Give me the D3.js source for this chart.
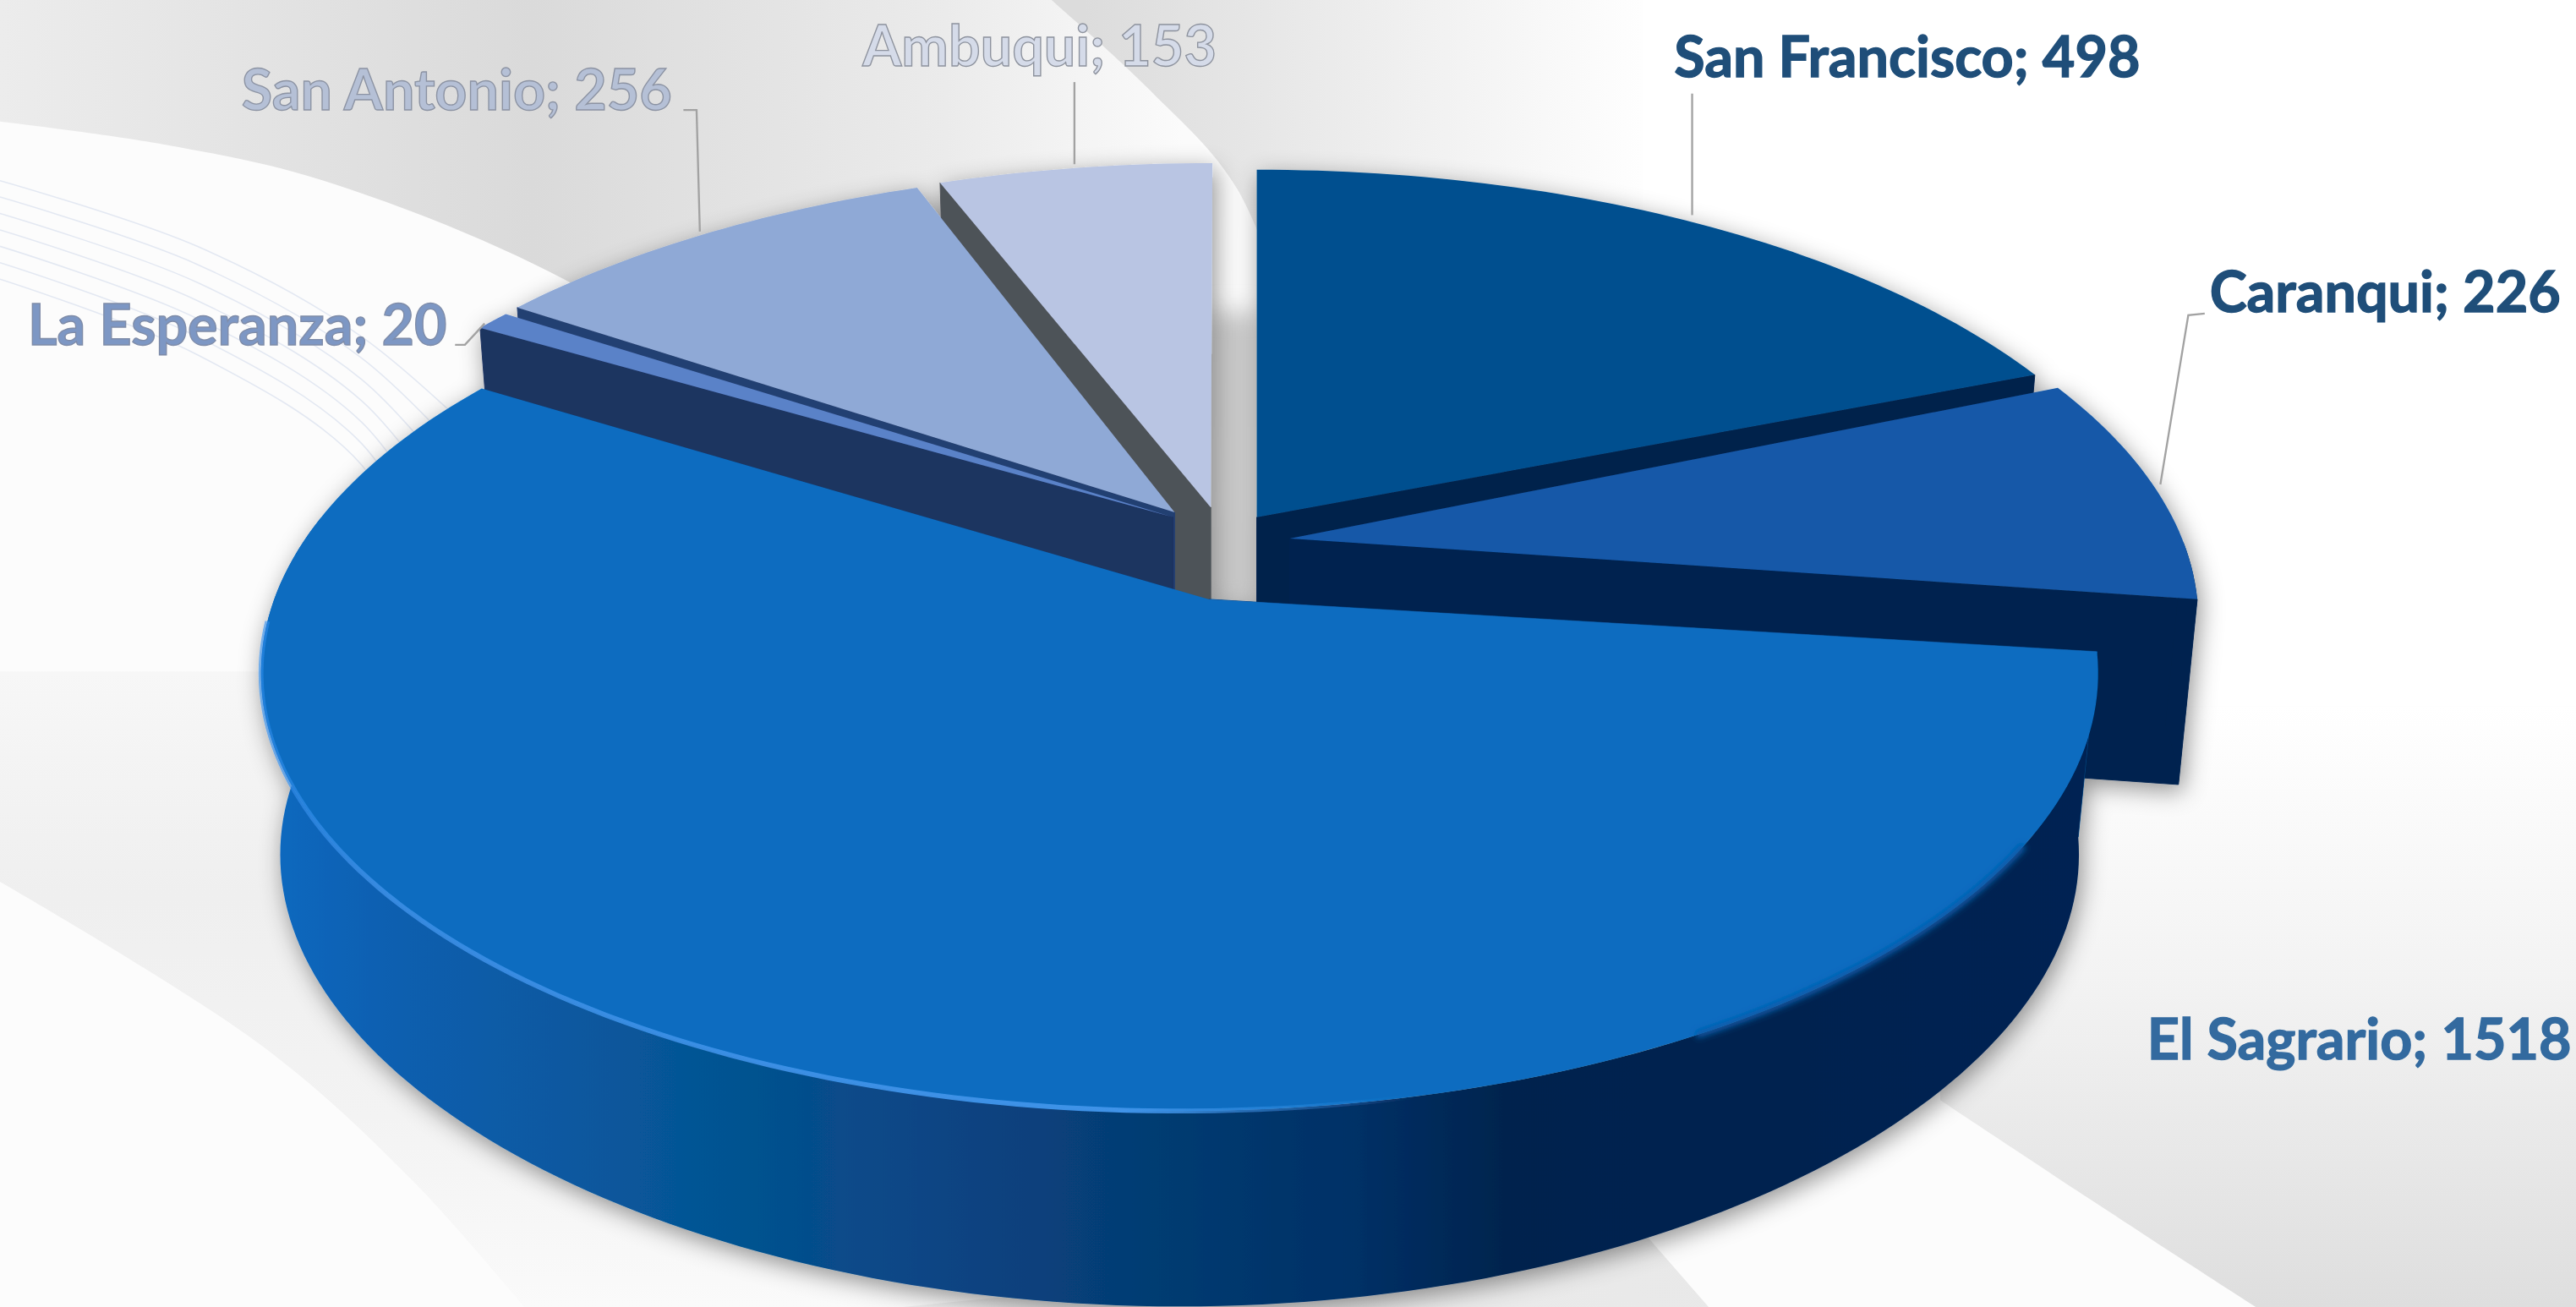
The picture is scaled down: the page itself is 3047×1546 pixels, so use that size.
<!DOCTYPE html>
<html>
<head>
  <meta charset="utf-8">
  <script src="https://d3js.org/d3.v7.min.js"></script>
  <style>
    html, body { margin: 0; padding: 0; background: #fff; overflow: hidden; }
    svg { display: block; }
    text.label { font-family: Lato, sans-serif; font-weight: 700; font-size: 34.2px; }
  </style>
</head>
<body>
  <script>
    // data, clockwise from 12 o'clock
    const categories = ['San Francisco', 'Caranqui', 'El Sagrario', 'La Esperanza', 'San Antonio', 'Ambuqui'];
    const values = [498, 226, 1518, 20, 256, 153];

    const topColors = ['#04508f', '#1459a8', '#086cc0', '#5a82c8', '#8fa9d6', '#b9c5e3'];
    const sideColors = ['#03214c', '#00234f', '#0a4a8c', '#1c3461', '#233f72', '#4d5258'];
    const labelColors = ['#1f4e79', '#1f4e79', '#336a9f', '#7d97c4', '#b5c0d6', '#d5dbe9'];
    const labelStrokes = ['#1f4e79', '#1f4e79', '#336a9f', '#7f8ca8', '#8c93a3', '#8e939e'];

    // exploded slices: rim centre and tip of each wedge
    const rimCentres = [[765, 322], [779, 330], [718, 362], [717, 325], [724, 321], [738, 318]];
    const apexes = [[765, 315], [785, 328], [736, 365], [714, 315], [715, 312], [737, 309]];

    // label baseline (x, y, anchor) and leader polyline
    const labelPos = [[1019, 47, 'start'], [1345, 190, 'start'], [1307, 645, 'start'], [17, 210, 'start'], [147, 67, 'start'], [525, 40, 'start']];
    const leaders = [
      [[1030, 57], [1030, 131]],
      [[1342, 191], [1332, 192], [1315, 295]],
      [],
      [[277, 210], [283, 210], [295, 197]],
      [[416, 67], [424, 67], [426, 141]],
      [[654, 50], [654, 100]]
    ];

    const width = 3047, height = 1546;
    const W = 1568, H = 796;

    // tilted disc: P is perspective strength, RX / KY the rim size, DEPTH the thickness
    const P = 0.18, RX = 550, KY = 258, DEPTH = 112;

    const svg = d3.select('body').append('svg')
      .attr('width', width)
      .attr('height', height)
      .attr('viewBox', `0 0 ${W} ${H}`)
      .attr('preserveAspectRatio', 'none');

    const defs = svg.append('defs');

    function linGrad(id, x1, y1, x2, y2, stops) {
      const g = defs.append('linearGradient').attr('id', id)
        .attr('gradientUnits', 'userSpaceOnUse')
        .attr('x1', x1).attr('y1', y1).attr('x2', x2).attr('y2', y2);
      stops.forEach(s => g.append('stop').attr('offset', s[0]).attr('stop-color', s[1]).attr('stop-opacity', s[2] === undefined ? 1 : s[2]));
    }

    linGrad('bgLeft', 0, 0, 720, 0, [[0, '#ececec'], [0.45, '#dadada'], [0.8, '#ebebeb'], [1, '#fbfbfb']]);
    linGrad('bgRight', 660, 0, 1010, 0, [[0, '#dcdcdc'], [1, '#ffffff']]);
    linGrad('bgLow', 0, 409, 0, 796, [[0, '#f7f7f7'], [0.35, '#efefef'], [0.7, '#f3f3f3'], [1, '#fafafa']]);
    linGrad('bgCorner', 0, 430, 0, 796, [[0, '#ffffff'], [0.45, '#f3f3f3'], [1, '#dedede']]);
    linGrad('bgBottom', 1000, 0, 0, 796, [[0, '#e2e2e2'], [1, '#f4f4f4']]);
    linGrad('wallGrad', 160, 0, 1270, 0, [
      [0, '#0f69c0'], [0.08, '#0d5eae'], [0.27, '#04528f'], [0.36, '#0a4585'],
      [0.49, '#053c72'], [0.6, '#053066'], [0.68, '#00244e'], [1, '#012452']
    ]);
    linGrad('rimGrad', 160, 0, 860, 0, [[0, '#2f8bea', 0.6], [0.1, '#3d8fe6', 0.85], [0.75, '#3f93e8', 1], [1, '#3f93e8', 0]]);

    const shadow = defs.append('filter').attr('id', 'shadow')
      .attr('x', '-10%').attr('y', '-10%').attr('width', '120%').attr('height', '125%');
    shadow.append('feDropShadow').attr('dx', 2).attr('dy', 4).attr('stdDeviation', 7)
      .attr('flood-color', '#000').attr('flood-opacity', 0.42);
    defs.append('filter').attr('id', 'blur').append('feGaussianBlur').attr('stdDeviation', 7);
    defs.append('filter').attr('id', 'soft').append('feGaussianBlur').attr('stdDeviation', 2);

    const smooth = d3.line().curve(d3.curveCatmullRom.alpha(0.5));
    const poly = d3.line();

    // background swooshes
    const bg = svg.append('g');
    bg.append('rect').attr('width', W).attr('height', H).attr('fill', '#fcfcfc');
    bg.append('path').attr('fill', 'url(#bgLeft)')
      .attr('d', smooth([[0, 74], [100, 88], [197, 110], [345, 171], [480, 260]]) + 'L800,260L753,115L700,50L640,0L0,0Z');
    bg.append('path').attr('fill', 'url(#bgRight)')
      .attr('d', smooth([[640, 0], [700, 55], [753, 115], [800, 240]]) + 'L1100,240L1100,0Z');
    bg.append('path').attr('fill', '#ffffff')
      .attr('d', 'M1000,0L1568,0L1568,430L1000,430Z');
    bg.append('path').attr('fill', 'url(#bgLow)')
      .attr('d', smooth([[0, 537], [161, 638], [253, 721], [319, 796]]) + 'L700,796L300,409L0,409Z');
    bg.append('path').attr('fill', 'url(#bgCorner)')
      .attr('d', smooth([[1181, 670], [1270, 729], [1373, 796]]) + 'L1568,796L1568,430L1181,430Z');
    bg.append('path').attr('fill', 'url(#bgBottom)')
      .attr('d', 'M550,796L1000,750L1040,796Z');

    // thin pale arcs on the left swoosh
    d3.range(0, 7).forEach(i => {
      const k = i * 10;
      bg.append('path').attr('fill', 'none').attr('stroke', '#e3e8f2').attr('stroke-width', 0.8)
        .attr('d', smooth([[0, 110 + k], [120, 150 + k * 1.1], [220, 205 + k * 1.3], [300 - k * 0.6, 275 + k * 1.6]]));
    });

    // grey shade in the gap between the two halves
    bg.append('rect').attr('x', 735).attr('y', 190).attr('width', 32).attr('height', 180)
      .attr('fill', '#c8c8c8').attr('filter', 'url(#blur)');

    // pie layout gives the angles; the projection puts them on the tilted disc
    const arcs = d3.pie().sort(null).startAngle(0).endAngle(2 * Math.PI)(values);

    function rimPoint(i, a, z) {
      const u = Math.sin(a), v = -Math.cos(a), d = 1 - P * v;
      const c = rimCentres[i];
      const near = Math.max(v, 0);
      return [c[0] + RX * u / d * (1 - z * (0.02 + 0.03 * near * near)), c[1] + KY * v / d + z * (DEPTH + 7 * v)];
    }
    function rimArc(i, a0, a1, z) {
      const n = Math.max(2, Math.ceil(Math.abs(a1 - a0) / 0.02));
      return d3.range(n + 1).map(k => rimPoint(i, a0 + (a1 - a0) * k / n, z));
    }

    const pieG = svg.append('g').attr('filter', 'url(#shadow)');

    function drawSlice(i) {
      const s = arcs[i];
      const mid = (s.startAngle + s.endAngle) / 2;
      const apex = apexes[i];
      const g = pieG.append('g').attr('class', 'slice').datum(categories[i]);

      // cut face
      const edge = mid < Math.PI ? s.endAngle : s.startAngle;
      const tip = rimPoint(i, edge, 0), tipLow = rimPoint(i, edge, 1);
      g.append('path').attr('fill', sideColors[i]).attr('stroke', sideColors[i]).attr('stroke-width', 0.5)
        .attr('d', poly([apex, tip, tipLow, [apex[0], apex[1] + DEPTH]]) + 'Z');

      // outer wall, only the part facing the viewer
      const a0 = Math.max(s.startAngle, Math.PI / 2), a1 = Math.min(s.endAngle, 1.56 * Math.PI);
      if (a1 > a0) {
        g.append('path')
          .attr('fill', i === 2 ? 'url(#wallGrad)' : sideColors[i])
          .attr('d', poly(rimArc(i, a0, a1, 0).concat(rimArc(i, a1, a0, 1))) + 'Z');
      }

      // top face
      g.append('path').attr('fill', topColors[i])
        .attr('d', poly([apex].concat(rimArc(i, s.startAngle, s.endAngle, 0))) + 'Z');

      if (i === 2) {
        // soft bevel on the dark side, bright one on the lit side
        g.append('path').attr('fill', 'none').attr('stroke', '#0a5aa8').attr('stroke-width', 4)
          .attr('filter', 'url(#soft)')
          .attr('d', poly(rimArc(i, 0.68 * Math.PI, 0.84 * Math.PI, 0)));
        g.append('path').attr('fill', 'none').attr('stroke', 'url(#rimGrad)').attr('stroke-width', 3)
          .attr('d', poly(rimArc(i, 0.85 * Math.PI, 1.48 * Math.PI, 0)));
      }
    }

    // back to front
    [0, 1, 5, 4, 3, 2].forEach(drawSlice);

    // leaders and labels
    const labels = svg.append('g');
    leaders.forEach(l => {
      if (l.length) {
        labels.append('path').attr('fill', 'none').attr('stroke', '#a2a2a2').attr('stroke-width', 1.2).attr('d', poly(l));
      }
    });
    labels.selectAll('text.label')
      .data(arcs)
      .enter()
      .append('text')
      .attr('class', 'label')
      .attr('x', (d, i) => labelPos[i][0])
      .attr('y', (d, i) => labelPos[i][1])
      .attr('text-anchor', (d, i) => labelPos[i][2])
      .attr('fill', (d, i) => labelColors[i])
      .attr('stroke', (d, i) => labelStrokes[i])
      .attr('stroke-width', 0.7)
      .text((d, i) => `${categories[i]}; ${d.value}`);
  </script>
</body>
</html>
